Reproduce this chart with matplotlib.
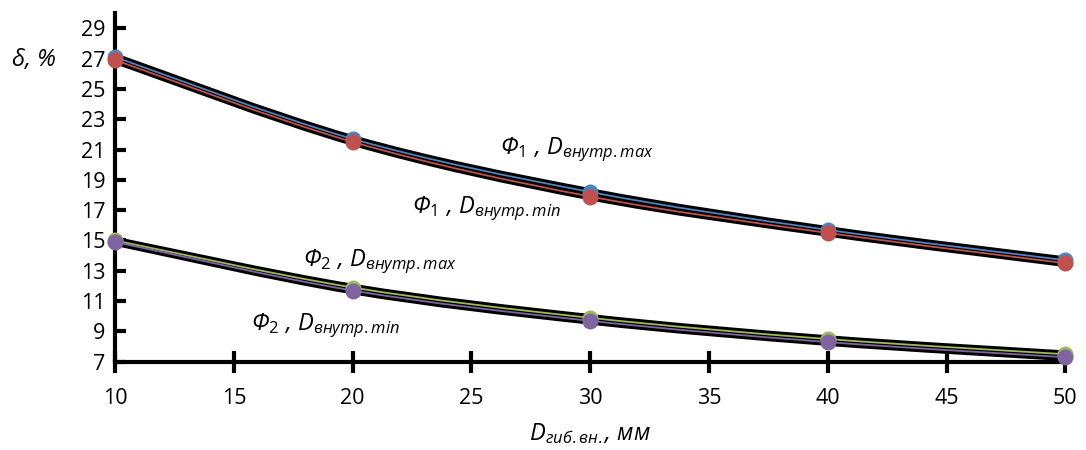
import numpy as np
import matplotlib.pyplot as plt
from matplotlib.path import Path
from matplotlib.patches import PathPatch

plt.rcParams['font.family'] = ['Open Sans', 'DejaVu Sans']
plt.rcParams['mathtext.fontset'] = 'custom'
plt.rcParams['mathtext.rm'] = 'Open Sans'
plt.rcParams['mathtext.it'] = 'Open Sans:italic'

# data
d_gib = [10, 20, 30, 40, 50]
f1_max = [27.1, 21.7, 18.2, 15.7, 13.7]
f1_min = [26.9, 21.5, 17.9, 15.5, 13.5]
f2_max = [15.0, 11.9, 9.9, 8.5, 7.5]
f2_min = [14.9, 11.7, 9.7, 8.3, 7.3]

series = [(f1_max, '#4f81bd'), (f1_min, '#c0504d'),
          (f2_max, '#9bbb59'), (f2_min, '#8064a2')]

labels = [(26.2, 21.0, r'Φ$_{\mathit{1}}$ , D$_{внутр.max}$'),
          (22.5, 17.1, r'Φ$_{\mathit{1}}$ , D$_{внутр.min}$'),
          (17.9, 13.6, r'Φ$_{\mathit{2}}$ , D$_{внутр.max}$'),
          (15.7, 9.4, r'Φ$_{\mathit{2}}$ , D$_{внутр.min}$')]


def smooth_path(x, y, t=1/6):
    # catmull-rom style bezier through the points, like excel smoothing
    x = np.asarray(x, float)
    y = np.asarray(y, float)
    verts = [(x[0], y[0])]
    codes = [Path.MOVETO]
    n = len(x)
    for i in range(n - 1):
        p0 = (x[max(i - 1, 0)], y[max(i - 1, 0)])
        p1 = (x[i], y[i])
        p2 = (x[i + 1], y[i + 1])
        p3 = (x[min(i + 2, n - 1)], y[min(i + 2, n - 1)])
        c1 = (p1[0] + (p2[0] - p0[0]) * t, p1[1] + (p2[1] - p0[1]) * t)
        c2 = (p2[0] - (p3[0] - p1[0]) * t, p2[1] - (p3[1] - p1[1]) * t)
        verts += [c1, c2, p2]
        codes += [Path.CURVE4] * 3
    return Path(verts, codes)


fig = plt.figure(figsize=(10.86, 4.5), dpi=100)
ax = fig.add_axes([0.106, 0.196, 0.875, 0.775])

for vals, col in series:
    p = smooth_path(d_gib, vals)
    ax.add_patch(PathPatch(p, facecolor='none', edgecolor='black', lw=5.5,
                           capstyle='round', zorder=2))
for vals, col in series:
    p = smooth_path(d_gib, vals)
    ax.add_patch(PathPatch(p, facecolor='none', edgecolor=col, lw=1.3, zorder=3))
for vals, col in series:
    ax.plot(d_gib, vals, 'o', color=col, ms=11.5, mec='none', zorder=4, clip_on=False)

for x, y, s in labels:
    ax.text(x, y, s, fontsize=17, style='italic', ha='left', va='center')

ax.set_xlim(10, 50)
ax.set_ylim(7, 30)
ax.set_xticks(np.arange(10, 51, 5))
ax.set_yticks(np.arange(7, 30, 2))
for s in ['top', 'right']:
    ax.spines[s].set_visible(False)
for s in ['left', 'bottom']:
    ax.spines[s].set_linewidth(3)
ax.tick_params(axis='y', direction='in', length=8, width=3, labelsize=15.5, pad=7)
ax.tick_params(axis='x', direction='inout', length=16, width=3, labelsize=15.5, pad=11)

ax.text(-0.108, 0.865, 'δ, %', transform=ax.transAxes, fontsize=17,
        style='italic', ha='left', va='center')
ax.set_xlabel(r'D$_{гиб.вн.}$, мм', fontsize=17, style='italic', labelpad=9)

fig.savefig('out.png', dpi=100)
